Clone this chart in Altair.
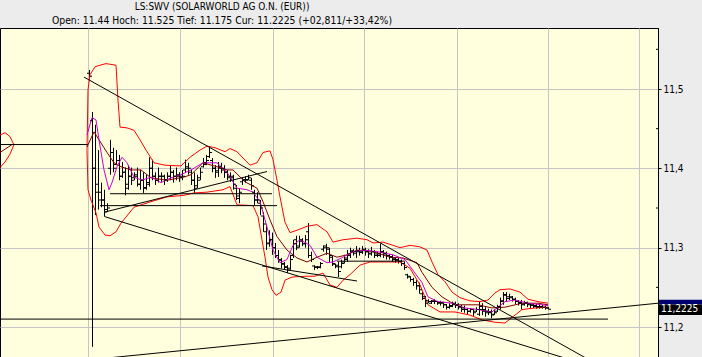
import altair as alt
import pandas as pd

# ---------------- data ----------------
title1 = "LS:SWV (SOLARWORLD AG O.N. (EUR))"
title2 = "Open: 11.44 Hoch: 11.525 Tief: 11.175 Cur: 11.2225 (+02,811/+33,42%)"
cur_price = 11.2225
cur_label = "11,2225"

bar_t = list(range(89, 549, 3))  # evenly spaced time steps of the bars

high = [11.524, 11.471, 11.455, 11.423, 11.382, 11.373, 11.356, 11.436, 11.426, 11.423,
        11.417, 11.408, 11.401, 11.404, 11.401, 11.395, 11.401, 11.398, 11.395, 11.392,
        11.414, 11.411, 11.395, 11.401, 11.395, 11.392, 11.395, 11.404, 11.398, 11.401,
        11.395, 11.398, 11.411, 11.407, 11.398, 11.395, 11.392, 11.401, 11.413, 11.417,
        11.428, 11.413, 11.404, 11.408, 11.407, 11.404, 11.398, 11.395, 11.392, 11.379,
        11.375, 11.388, 11.390, 11.392, 11.388, 11.373, 11.370, 11.360, 11.345, 11.329,
        11.322, 11.319, 11.306, 11.297, 11.287, 11.282, 11.278, 11.291, 11.310, 11.315,
        11.315, 11.312, 11.316, 11.331, 11.295, 11.278, 11.277, 11.282, 11.303, 11.305,
        11.300, 11.290, 11.280, 11.282, 11.285, 11.291, 11.297, 11.300, 11.298, 11.302,
        11.300, 11.302, 11.300, 11.298, 11.301, 11.297, 11.295, 11.305, 11.297, 11.295,
        11.292, 11.291, 11.288, 11.287, 11.285, 11.282, 11.267, 11.264, 11.262, 11.259,
        11.256, 11.244, 11.239, 11.235, 11.234, 11.235, 11.233, 11.233, 11.232, 11.229,
        11.230, 11.232, 11.232, 11.230, 11.228, 11.227, 11.224, 11.224, 11.223, 11.225,
        11.232, 11.230, 11.225, 11.223, 11.222, 11.222, 11.228, 11.237, 11.244, 11.244,
        11.242, 11.239, 11.237, 11.234, 11.234, 11.233, 11.232, 11.230, 11.229, 11.229,
        11.228, 11.228, 11.227, 11.225]

low = [11.514, 11.175, 11.341, 11.348, 11.351, 11.339, 11.345, 11.392, 11.395, 11.404,
       11.385, 11.388, 11.366, 11.373, 11.379, 11.385, 11.377, 11.373, 11.369, 11.373,
       11.377, 11.385, 11.379, 11.382, 11.383, 11.379, 11.383, 11.385, 11.382, 11.385,
       11.383, 11.385, 11.395, 11.392, 11.379, 11.369, 11.375, 11.385, 11.401, 11.404,
       11.413, 11.395, 11.388, 11.389, 11.394, 11.388, 11.385, 11.383, 11.373, 11.360,
       11.356, 11.379, 11.382, 11.385, 11.373, 11.354, 11.356, 11.341, 11.320, 11.297,
       11.301, 11.291, 11.287, 11.281, 11.274, 11.272, 11.268, 11.272, 11.287, 11.297,
       11.300, 11.302, 11.300, 11.287, 11.282, 11.272, 11.273, 11.274, 11.295, 11.291,
       11.282, 11.277, 11.274, 11.263, 11.274, 11.280, 11.282, 11.287, 11.290, 11.287,
       11.290, 11.292, 11.290, 11.287, 11.290, 11.287, 11.288, 11.288, 11.287, 11.285,
       11.285, 11.282, 11.281, 11.280, 11.277, 11.272, 11.261, 11.257, 11.252, 11.247,
       11.242, 11.234, 11.225, 11.230, 11.229, 11.229, 11.228, 11.227, 11.224, 11.222,
       11.223, 11.225, 11.224, 11.222, 11.219, 11.218, 11.216, 11.218, 11.214, 11.219,
       11.214, 11.215, 11.213, 11.215, 11.211, 11.215, 11.219, 11.222, 11.228, 11.232,
       11.234, 11.232, 11.229, 11.227, 11.222, 11.227, 11.225, 11.224, 11.224, 11.223,
       11.223, 11.223, 11.222, 11.222]

open_ = [11.520, 11.460, 11.400, 11.380, 11.370, 11.360, 11.348, 11.400, 11.420, 11.405,
         11.410, 11.390, 11.395, 11.380, 11.390, 11.388, 11.392, 11.380, 11.385, 11.376,
         11.382, 11.400, 11.390, 11.385, 11.390, 11.390, 11.386, 11.390, 11.395, 11.390,
         11.392, 11.388, 11.398, 11.402, 11.395, 11.385, 11.378, 11.388, 11.402, 11.407,
         11.415, 11.410, 11.400, 11.397, 11.402, 11.398, 11.395, 11.388, 11.388, 11.375,
         11.362, 11.383, 11.386, 11.386, 11.385, 11.370, 11.360, 11.356, 11.340, 11.320,
         11.306, 11.310, 11.300, 11.290, 11.284, 11.279, 11.275, 11.274, 11.290, 11.310,
         11.302, 11.308, 11.305, 11.320, 11.290, 11.277, 11.276, 11.276, 11.298, 11.302,
         11.298, 11.288, 11.279, 11.278, 11.276, 11.282, 11.287, 11.292, 11.296, 11.293,
         11.296, 11.294, 11.297, 11.295, 11.293, 11.295, 11.290, 11.290, 11.295, 11.293,
         11.290, 11.289, 11.286, 11.285, 11.283, 11.280, 11.266, 11.263, 11.260, 11.256,
         11.252, 11.242, 11.236, 11.233, 11.230, 11.233, 11.232, 11.231, 11.231, 11.228,
         11.225, 11.226, 11.230, 11.228, 11.226, 11.224, 11.222, 11.220, 11.222, 11.220,
         11.216, 11.226, 11.222, 11.220, 11.219, 11.216, 11.220, 11.226, 11.233, 11.241,
         11.236, 11.237, 11.235, 11.232, 11.231, 11.229, 11.231, 11.229, 11.228, 11.227,
         11.226, 11.226, 11.225, 11.224]

close = [11.516, 11.400, 11.370, 11.360, 11.360, 11.345, 11.350, 11.420, 11.400, 11.410,
         11.390, 11.395, 11.375, 11.390, 11.385, 11.390, 11.380, 11.385, 11.375, 11.380,
         11.400, 11.390, 11.385, 11.390, 11.390, 11.385, 11.390, 11.395, 11.390, 11.390,
         11.390, 11.390, 11.400, 11.400, 11.385, 11.375, 11.385, 11.395, 11.405, 11.410,
         11.420, 11.400, 11.395, 11.400, 11.400, 11.395, 11.390, 11.390, 11.380, 11.365,
         11.370, 11.385, 11.385, 11.388, 11.378, 11.360, 11.360, 11.350, 11.330, 11.305,
         11.310, 11.300, 11.290, 11.285, 11.280, 11.276, 11.272, 11.285, 11.305, 11.300,
         11.310, 11.305, 11.310, 11.290, 11.285, 11.275, 11.275, 11.280, 11.300, 11.300,
         11.290, 11.280, 11.276, 11.270, 11.280, 11.285, 11.290, 11.295, 11.295, 11.295,
         11.295, 11.298, 11.295, 11.292, 11.295, 11.292, 11.292, 11.295, 11.292, 11.290,
         11.288, 11.285, 11.284, 11.283, 11.280, 11.275, 11.264, 11.260, 11.256, 11.252,
         11.247, 11.238, 11.230, 11.232, 11.232, 11.232, 11.230, 11.230, 11.228, 11.225,
         11.227, 11.228, 11.227, 11.225, 11.222, 11.222, 11.220, 11.222, 11.218, 11.222,
         11.222, 11.220, 11.218, 11.218, 11.215, 11.218, 11.225, 11.232, 11.240, 11.238,
         11.238, 11.235, 11.232, 11.230, 11.228, 11.230, 11.228, 11.227, 11.226, 11.225,
         11.225, 11.225, 11.224, 11.2225]

# Bollinger upper band
bb_up_t = [87, 88, 90, 95, 100, 106, 116, 118, 120, 127, 134, 140, 146, 154, 165, 181, 190, 200,
           207, 215, 225, 230, 237, 243, 250, 257, 263, 270, 273, 277, 280, 285, 290, 297, 307,
           317, 327, 333, 343, 357, 367, 373, 383, 393, 400, 410, 420, 427, 432, 438, 445, 452,
           460, 470, 480, 488, 495, 500, 510, 520, 528, 538, 548]
bb_up_p = [11.423, 11.499, 11.518, 11.528, 11.530, 11.532, 11.530, 11.486, 11.452, 11.451,
           11.448, 11.436, 11.423, 11.407, 11.404, 11.403, 11.414, 11.423, 11.428, 11.426,
           11.421, 11.425, 11.421, 11.413, 11.404, 11.407, 11.420, 11.422, 11.411, 11.385,
           11.364, 11.332, 11.319, 11.322, 11.327, 11.329, 11.320, 11.307, 11.310, 11.312,
           11.310, 11.306, 11.307, 11.303, 11.300, 11.303, 11.301, 11.297, 11.282, 11.266,
           11.257, 11.244, 11.237, 11.233, 11.232, 11.234, 11.243, 11.247, 11.248, 11.244,
           11.235, 11.232, 11.230]

# Bollinger lower band
bb_lo_t = [87, 88, 91, 96, 99, 105, 110, 116, 121, 134, 151, 167, 184, 194, 207, 223, 230, 237,
           253, 258, 265, 268, 272, 276, 281, 285, 292, 305, 315, 323, 330, 337, 343, 350, 360,
           370, 387, 400, 410, 420, 428, 440, 455, 470, 482, 495, 505, 515, 522, 535, 548]
bb_lo_p = [11.423, 11.373, 11.360, 11.344, 11.326, 11.316, 11.315, 11.320, 11.331, 11.351,
           11.358, 11.364, 11.366, 11.369, 11.370, 11.373, 11.377, 11.354, 11.353, 11.339,
           11.288, 11.263, 11.247, 11.240, 11.244, 11.259, 11.263, 11.264, 11.264, 11.268,
           11.253, 11.250, 11.259, 11.266, 11.278, 11.282, 11.282, 11.282, 11.274, 11.253,
           11.228, 11.219, 11.219, 11.215, 11.209, 11.206, 11.205, 11.215, 11.222, 11.224,
           11.225]

# Bollinger middle band (slow average)
bb_mid_t = [87, 94, 101, 107, 114, 121, 131, 141, 151, 167, 184, 191, 203, 217, 227, 233, 245,
            257, 263, 270, 277, 287, 297, 307, 317, 327, 337, 347, 357, 373, 390, 403, 417, 422,
            432, 442, 455, 478, 492, 505, 522, 538, 548]
bb_mid_p = [11.427, 11.446, 11.432, 11.420, 11.407, 11.402, 11.398, 11.398, 11.388, 11.385,
            11.389, 11.392, 11.407, 11.402, 11.398, 11.398, 11.383, 11.375, 11.358, 11.335,
            11.314, 11.297, 11.287, 11.282, 11.288, 11.293, 11.288, 11.291, 11.297, 11.295,
            11.288, 11.287, 11.281, 11.269, 11.250, 11.238, 11.228, 11.228, 11.224, 11.225,
            11.230, 11.230, 11.228]

# fast moving average (magenta)
ma_t = [87, 92, 96, 99, 104, 109, 112, 117, 122, 127, 134, 142, 151, 161, 171, 181, 191, 203,
        217, 227, 237, 247, 253, 260, 267, 273, 280, 287, 293, 300, 310, 317, 327, 333, 343,
        353, 363, 377, 393, 405, 415, 422, 428, 438, 452, 465, 478, 492, 498, 505, 515, 528,
        542, 548]
ma_p = [11.442, 11.464, 11.461, 11.436, 11.398, 11.373, 11.382, 11.402, 11.414, 11.407,
        11.389, 11.385, 11.389, 11.382, 11.388, 11.392, 11.398, 11.407, 11.407, 11.395,
        11.375, 11.373, 11.370, 11.358, 11.326, 11.297, 11.281, 11.285, 11.303, 11.310,
        11.303, 11.288, 11.281, 11.282, 11.288, 11.295, 11.297, 11.295, 11.291, 11.285,
        11.268, 11.256, 11.238, 11.232, 11.230, 11.224, 11.222, 11.219, 11.225, 11.232,
        11.234, 11.230, 11.228, 11.227]

# earlier session at the very left edge
pre_up_t = [0, 5, 10, 13, 14]
pre_up_p = [11.442, 11.445, 11.440, 11.432, 11.430]
pre_lo_t = [0, 5, 10, 13, 14]
pre_lo_p = [11.401, 11.408, 11.418, 11.427, 11.430]
pre_mid_t = [0, 12]
pre_mid_p = [11.420, 11.430]

# drawn trend / support lines: start time, start price, end time, end price
tl_t1 = [84, 105, 100, 0, 0, 110, 100, 105, 262, 337]
tl_p1 = [11.515, 11.339, 11.160, 11.210, 11.430, 11.368, 11.353, 11.345, 11.277, 11.283]
tl_t2 = [590, 580, 658, 608, 88, 272, 277, 267, 357, 405]
tl_p2 = [11.158, 11.155, 11.230, 11.210, 11.430, 11.368, 11.353, 11.396, 11.258, 11.283]

grid_t = [88, 180, 273, 364, 457, 548, 639]
y_major = [11.2, 11.3, 11.4, 11.5]
y_minor = [11.25, 11.35, 11.45, 11.55]

# ---------------- chart ----------------
XS = alt.Scale(domain=[0, 658], nice=False, zero=False)
YS = alt.Scale(domain=[11.1622, 11.5769], nice=False, zero=False)
FONT = "DejaVu Sans Condensed"

X_AXIS = alt.Axis(values=grid_t, grid=True, gridColor="#c4c4c4", gridWidth=1,
                  labels=False, ticks=False, domain=False, title=None)
Y_AXIS = alt.Axis(orient="right", values=y_major, grid=True, gridColor="#c4c4c4", gridWidth=1,
                  domain=True, domainColor="black", domainWidth=1,
                  ticks=True, tickColor="black", tickSize=3, tickWidth=1,
                  labelExpr="replace(format(datum.value, '.1f'), '.', ',')",
                  labelFont=FONT, labelFontSize=10, labelColor="black", labelPadding=2,
                  title=None)


def X(field):
    return alt.X(field, scale=XS, axis=X_AXIS)


def Y(field):
    return alt.Y(field, scale=YS, axis=Y_AXIS)


bars = pd.DataFrame({"t": bar_t, "high": high, "low": low, "open": open_, "close": close})

wick = alt.Chart(bars).mark_rule(color="black", strokeWidth=1, xOffset=0.5, clip=True).encode(
    x=X("t:Q"), y=Y("low:Q"), y2="high:Q",
)
open_tick = alt.Chart(bars).mark_tick(orient="horizontal", size=2, thickness=1, xOffset=-1,
                                      color="black", opacity=1, clip=True).encode(
    x=X("t:Q"), y=Y("open:Q"))
close_tick = alt.Chart(bars).mark_tick(orient="horizontal", size=2, thickness=1, xOffset=2,
                                       color="black", opacity=1, clip=True).encode(
    x=X("t:Q"), y=Y("close:Q"))


def curve(ts, ps, color):
    df = pd.DataFrame({"t": ts, "p": ps})
    return alt.Chart(df).mark_line(color=color, strokeWidth=1, clip=True).encode(
        x=X("t:Q"), y=Y("p:Q"), order="t:Q",
    )


up = curve(bb_up_t, bb_up_p, "#ff0000")
lo = curve(bb_lo_t, bb_lo_p, "#ff0000")
mid = curve(bb_mid_t, bb_mid_p, "#800000")
ma = curve(ma_t, ma_p, "#cc00cc")
pre_up = curve(pre_up_t, pre_up_p, "#ff0000")
pre_lo = curve(pre_lo_t, pre_lo_p, "#ff0000")
pre_mid = curve(pre_mid_t, pre_mid_p, "#800000")

lines = pd.DataFrame({"t1": tl_t1, "p1": tl_p1, "t2": tl_t2, "p2": tl_p2})
trend = alt.Chart(lines).mark_rule(color="black", strokeWidth=1, clip=True).encode(
    x=X("t1:Q"), x2="t2:Q", y=Y("p1:Q"), y2="p2:Q",
)

minor = alt.Chart(pd.DataFrame({"v": y_minor})).mark_rule(color="black", strokeWidth=1).encode(
    y=Y("v:Q"), x=alt.value(656), x2=alt.value(659))

t1 = alt.Chart(pd.DataFrame({"s": [title1]})).mark_text(
    font=FONT, fontSize=10, color="black", align="center", baseline="middle").encode(
    text="s:N", x=alt.value(222), y=alt.value(-21))
t2 = alt.Chart(pd.DataFrame({"s": [title2]})).mark_text(
    font=FONT, fontSize=10.3, color="black", align="center", baseline="middle").encode(
    text="s:N", x=alt.value(222), y=alt.value(-7))

box_top = alt.Chart(pd.DataFrame({"a": [cur_price]})).transform_calculate(
    top="datum.a + 0.0119", bot="datum.a + 0.0060").mark_rect(color="#000070").encode(
    x=alt.value(659), x2=alt.value(702), y=Y("top:Q"), y2="bot:Q")
box = alt.Chart(pd.DataFrame({"a": [cur_price]})).transform_calculate(
    top="datum.a + 0.0060", bot="datum.a - 0.0075").mark_rect(color="#000000").encode(
    x=alt.value(659), x2=alt.value(702), y=Y("top:Q"), y2="bot:Q")
box_txt = alt.Chart(pd.DataFrame({"s": [cur_label], "a": [cur_price]})).mark_text(
    font=FONT, fontSize=10, color="white", align="left", baseline="middle").encode(
    text="s:N", x=alt.value(661), y=Y("a:Q"))

chart = alt.layer(
    wick, pre_up, pre_lo, pre_mid, up, lo, mid, ma, open_tick, close_tick, trend,
    minor, t1, t2, box_top, box, box_txt
).properties(
    width=658, height=329,
    padding={"left": 0, "top": 28, "right": 44, "bottom": 0},
    autosize=alt.AutoSizeParams(type="none"),
).configure(background="#ececec").configure_view(fill="#ffffdd", stroke="black", strokeWidth=1)

chart.save("out.html", embed_options={"renderer": "svg", "actions": False})
